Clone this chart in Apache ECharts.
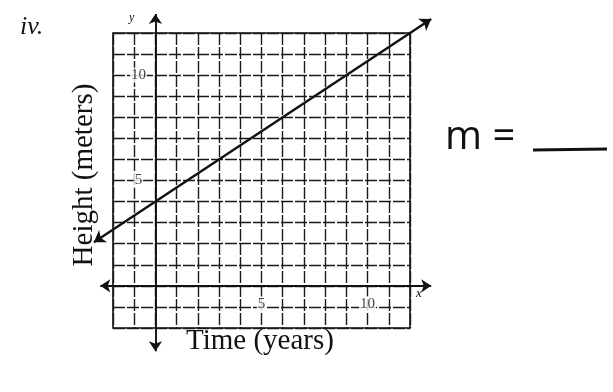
<!DOCTYPE html>
<html>
<head>
<meta charset="utf-8">
<script src="https://cdn.jsdelivr.net/npm/echarts@6/dist/echarts.min.js"></script>
<style>
  html, body { margin: 0; padding: 0; background: #fff; }
  #main { width: 613px; height: 392px; }
</style>
</head>
<body>
<div id="main"></div>
<script>
// values
const xRange = [-2, 12]
const yRange = [-2, 12]
const xTickLabels = [5, 10]
const yTickLabels = [5, 10]
// tick numbers sit inside the grid, one row below / one column left of the axes
const xLabelRow = -0.85
const yLabelCol = -0.8
// the drawn line, end points at the arrow tips (y = 2/3 x + 4)
const lineX = [-2.9, 13]
const lineY = [2.07, 12.67]
// the two axes with arrows, running past the grid
const xAxisEnds = [-2.6, 13]
const yAxisEnds = [-3.1, 12.9]

const serif = '"Liberation Serif", "DejaVu Serif", serif'
var myChart = echarts.init(document.getElementById('main'))

var tickLabel = {
  show: true, position: 'inside',
  formatter: p => String(p.data[2]),
  fontFamily: serif, fontSize: 15, color: '#111',
  backgroundColor: '#fff', padding: [0, 1]
}

var option = {
  backgroundColor: '#fff',
  animation: false,
  grid: {
    left: 113, top: 33, width: 297, height: 295,
    show: true, borderColor: '#111', borderWidth: 1.6
  },
  xAxis: {
    type: 'value', min: xRange[0], max: xRange[1], interval: 1,
    axisLine: { show: false }, axisTick: { show: false }, axisLabel: { show: false },
    splitLine: { show: true, lineStyle: { color: '#1a1a1a', width: 1.4, type: [12, 2] } }
  },
  yAxis: {
    type: 'value', min: yRange[0], max: yRange[1], interval: 1,
    axisLine: { show: false }, axisTick: { show: false }, axisLabel: { show: false },
    splitLine: { show: true, lineStyle: { color: '#1a1a1a', width: 1.4, type: [12, 2] } }
  },
  series: [
    {
      type: 'lines', coordinateSystem: 'cartesian2d', clip: false,
      symbol: ['arrow', 'arrow'], symbolSize: 10,
      lineStyle: { color: '#111', width: 1.9, opacity: 1 },
      data: [
        { coords: [[xAxisEnds[0], 0], [xAxisEnds[1], 0]] },
        { coords: [[0, yAxisEnds[0]], [0, yAxisEnds[1]]] }
      ]
    },
    {
      type: 'lines', coordinateSystem: 'cartesian2d', clip: false,
      symbol: ['arrow', 'arrow'], symbolSize: 11,
      lineStyle: { color: '#111', width: 2.4, opacity: 1 },
      data: [{ coords: [[lineX[0], lineY[0]], [lineX[1], lineY[1]]] }]
    },
    {
      type: 'scatter', symbolSize: 0, z: 5,
      label: tickLabel,
      data: xTickLabels.map(v => [v, xLabelRow, v])
    },
    {
      type: 'scatter', symbolSize: 0, z: 5,
      label: tickLabel,
      data: yTickLabels.map(v => [yLabelCol, v, v])
    }
  ],
  graphic: [
    { type: 'text', left: 20, top: 14,
      style: { text: 'iv.', font: 'italic 26px ' + serif, fill: '#111' } },
    { type: 'text', x: 129, y: 12,
      style: { text: 'y', font: 'italic 12px ' + serif, fill: '#111' } },
    { type: 'text', x: 416, y: 287,
      style: { text: 'x', font: 'italic 13px ' + serif, fill: '#111' } },
    { type: 'text', x: 84, y: 175, rotation: Math.PI / 2,
      style: { text: 'Height (meters)', font: '29px ' + serif, fill: '#111',
        align: 'center', verticalAlign: 'middle' } },
    { type: 'text', x: 260, y: 341,
      style: { text: 'Time (years)', font: '29px ' + serif, fill: '#111',
        align: 'center', verticalAlign: 'middle' } },
    { type: 'text', x: 445, y: 138,
      style: { text: 'm =', font: '40px "Open Sans", sans-serif', fill: '#111',
        verticalAlign: 'middle' } },
    { type: 'line', shape: { x1: 533, y1: 150, x2: 607, y2: 149 },
      style: { stroke: '#111', lineWidth: 3 } }
  ]
}
myChart.setOption(option)
</script>
</body>
</html>
